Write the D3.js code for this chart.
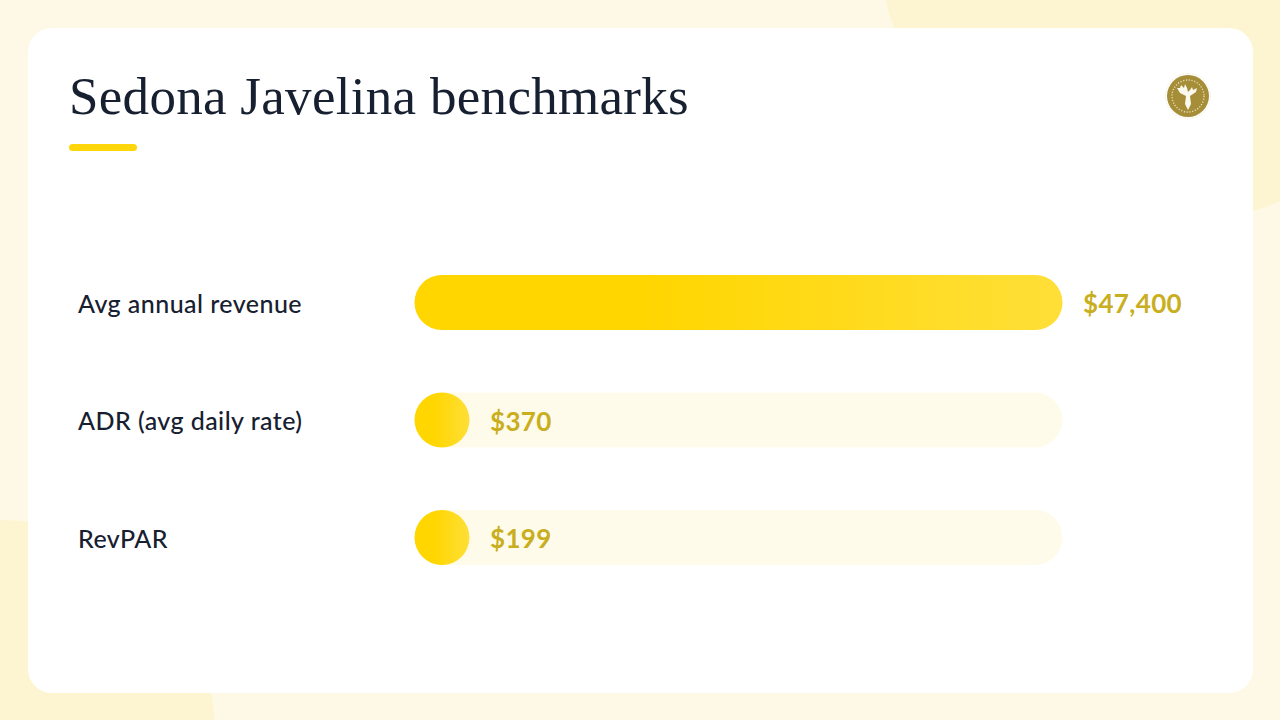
<!DOCTYPE html>
<html>
<head>
<meta charset="utf-8">
<script src="https://cdn.jsdelivr.net/npm/d3@7"></script>
<style>
  html, body { margin: 0; padding: 0; background: #fef9e6; }
  svg { display: block; }
</style>
</head>
<body>
<div id="chart"></div>
<script>
const categories = ["Avg annual revenue", "ADR (avg daily rate)", "RevPAR"];
const values = [47400, 370, 199];
const valueLabels = ["$47,400", "$370", "$199"];
const titleText = "Sedona Javelina benchmarks";

const width = 1280, height = 720;
const card = {x: 28, y: 28, w: 1225, h: 665, r: 24};

const svg = d3.select("#chart").append("svg")
  .attr("width", width)
  .attr("height", height);

const defs = svg.append("defs");
const grad = defs.append("linearGradient")
  .attr("id", "barFill")
  .attr("x1", "0%").attr("x2", "100%").attr("y1", "0%").attr("y2", "0%");
grad.append("stop").attr("offset", "0%").attr("stop-color", "#ffd600");
grad.append("stop").attr("offset", "35%").attr("stop-color", "#ffd600");
grad.append("stop").attr("offset", "100%").attr("stop-color", "#ffdf38");

// background
svg.append("rect").attr("width", width).attr("height", height).attr("fill", "#fef9e6");
svg.append("circle").attr("cx", 1170).attr("cy", -70).attr("r", 293).attr("fill", "#fdf5d2");
svg.append("ellipse").attr("cx", 0).attr("cy", 732).attr("rx", 215).attr("ry", 212).attr("fill", "#fdf5d2");

svg.append("rect")
  .attr("x", card.x).attr("y", card.y)
  .attr("width", card.w).attr("height", card.h)
  .attr("rx", card.r)
  .attr("fill", "#ffffff");

// title
svg.append("text")
  .attr("x", 69).attr("y", 114)
  .attr("font-family", "'Liberation Serif', serif")
  .attr("font-size", 53)
  .attr("letter-spacing", 0.3)
  .attr("fill", "#172030")
  .text(titleText);

svg.append("rect")
  .attr("x", 69).attr("y", 144)
  .attr("width", 68).attr("height", 7)
  .attr("rx", 3.5)
  .attr("fill", "#ffd60a");

// logo
const logo = svg.append("g").attr("transform", "translate(1188,96)");
logo.append("circle").attr("r", 22.5).attr("fill", "none")
  .attr("stroke", "#e9dfb8").attr("stroke-width", 0.8).attr("stroke-dasharray", "1 1.5");
logo.append("circle").attr("r", 21).attr("fill", "#a68d37");
logo.append("path")
  .attr("d", "M-2,0 L-8,-3 L-11,-8 L-8,-8 L-7,-11 L-4,-8 L-3,-12 L-1,-8 L0,-4 L2,-6 L4,-9 L5,-6 L9,-8 L8,-4 L2,0 L3,8 L0,14 L-3,8 Z")
  .attr("fill", "#fbf8ee");
// the ring of tiny lettering round the logo
logo.append("circle").attr("r", 16).attr("fill", "none")
  .attr("stroke", "#e6dcb4").attr("stroke-width", 1.4).attr("stroke-dasharray", "1.2 1.6");

// scales
const x = d3.scaleLinear().domain([0, d3.max(values)]).range([414.5, 1062.5]);
const y = d3.scaleBand().domain(categories).range([275, 565]).paddingInner(62.5 / 117.5);
const barH = y.bandwidth();

const rows = svg.selectAll("g.row")
  .data(categories)
  .join("g")
  .attr("class", "row");

rows.append("rect")
  .attr("x", x(0))
  .attr("y", d => y(d))
  .attr("width", x.range()[1] - x.range()[0])
  .attr("height", barH)
  .attr("rx", barH / 2)
  .attr("fill", "#fffbeb");

// bars never get narrower than a full circle
const barEnd = i => x(0) + Math.max(barH, x(values[i]) - x(0));

rows.append("rect")
  .attr("x", x(0))
  .attr("y", d => y(d))
  .attr("width", (d, i) => barEnd(i) - x(0))
  .attr("height", barH)
  .attr("rx", barH / 2)
  .attr("fill", "url(#barFill)");

rows.append("text")
  .attr("x", 78)
  .attr("y", d => y(d) + barH / 2 + 10)
  .attr("font-family", "Lato, sans-serif")
  .attr("font-weight", 500)
  .attr("font-size", 25)
  .attr("letter-spacing", 0.45)
  .attr("fill", "#172030")
  .text(d => d);

rows.append("text")
  .attr("x", (d, i) => barEnd(i) + 20.5)
  .attr("y", d => y(d) + barH / 2 + 10.5)
  .attr("font-family", "Lato, sans-serif")
  .attr("font-weight", 700)
  .attr("font-size", 26)
  .attr("letter-spacing", 0.35)
  .attr("fill", "#c9ae20")
  .text((d, i) => valueLabels[i]);
</script>
</body>
</html>
